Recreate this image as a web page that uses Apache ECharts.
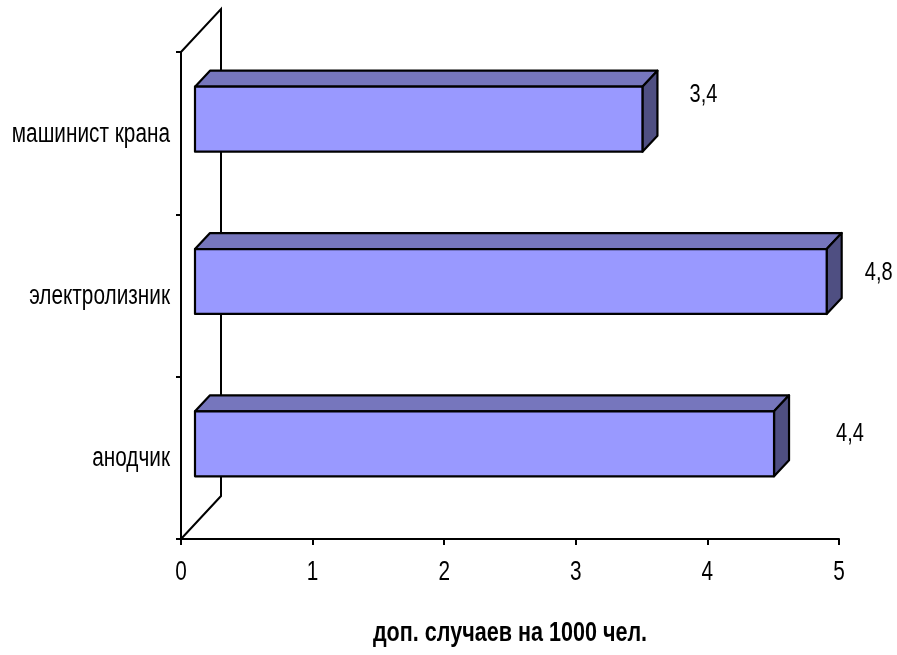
<!DOCTYPE html>
<html>
<head>
<meta charset="utf-8">
<title>Дополнительные случаи по профессиям</title>
<script src="https://cdn.jsdelivr.net/npm/echarts@6/dist/echarts.min.js"></script>
<style>
  html, body { margin: 0; padding: 0; background: #ffffff; }
  #chart { width: 897px; height: 655px; }
</style>
</head>
<body>
<div id="chart"></div>
<script>
// Professions, listed bottom to top as on the category axis
const categories = ['анодчик', 'электролизник', 'машинист крана'];
// Additional cases per 1000 workers
const values = [4.4, 4.8, 3.4];
// Value axis ticks
const tickValues = [0, 1, 2, 3, 4, 5];
const axisTitle = 'доп. случаев на 1000 чел.';

// Arial-metric face, drawn horizontally condensed
const FONT = "'Liberation Sans', Arial, sans-serif";
const SQUEEZE = 0.77;

// Pseudo-3D geometry (pixels)
const WALL_DEPTH = [40, -43];   // back wall offset
const BAR_SHIFT = [14, -14];    // front face offset from the floor edge
const BAR_DEPTH = [15, -16];    // bar thickness in depth
const BAR_FRACTION = 0.4;       // front face height as share of the band
// Value label placement relative to the bar end / band centre
const labelDx = [90, 66, 75];
const labelDy = [-24, -23, -38];

const FRONT = '#9999ff';
const TOP = '#7676bd';
const SIDE = '#4f4f82';

const fmt = v => String(v).replace('.', ',');

const chart = echarts.init(document.getElementById('chart'), null, { renderer: 'canvas' });

function condensedText(x, y, text, size, align, bold) {
  return {
    type: 'text',
    x: x,
    y: y,
    scaleX: SQUEEZE,
    style: {
      text: text,
      fill: '#000',
      font: (bold ? 'bold ' : '') + size + 'px ' + FONT,
      align: align,
      verticalAlign: 'middle'
    }
  };
}

function renderWall(params, api) {
  const cs = params.coordSys;
  const dx = WALL_DEPTH[0], dy = WALL_DEPTH[1];
  return {
    type: 'polyline',
    shape: {
      points: [
        [cs.x, cs.y],
        [cs.x + dx, cs.y + dy],
        [cs.x + dx, cs.y + cs.height + dy],
        [cs.x, cs.y + cs.height]
      ]
    },
    style: { stroke: '#000', lineWidth: 2, fill: null }
  };
}

// Category names to the left of the axis
function renderCategoryLabel(params, api) {
  const p = api.coord([0, api.value(0)]);
  return condensedText(p[0] - 11, p[1] + 1, categories[params.dataIndex], 27, 'right', false);
}

// Numbers under the value axis
function renderTickLabel(params, api) {
  const cs = params.coordSys;
  const p = api.coord([api.value(0), 0]);
  return condensedText(p[0], cs.y + cs.height + 34, fmt(api.value(0)), 27, 'center', false);
}

// Axis title under the tick numbers
function renderAxisTitle(params, api) {
  const cs = params.coordSys;
  return condensedText(cs.x + cs.width / 2, cs.y + cs.height + 94, axisTitle, 28, 'center', true);
}

function renderBar(params, api) {
  const v = api.value(0);
  const idx = api.value(1);
  const start = api.coord([0, idx]);
  const end = api.coord([v, idx]);
  const band = api.size([0, 1])[1];
  const h = band * BAR_FRACTION;
  const x0 = start[0] + BAR_SHIFT[0];
  const x1 = end[0] + BAR_SHIFT[0];
  const yc = start[1] + BAR_SHIFT[1];
  const y0 = yc - h / 2, y1 = yc + h / 2;
  const dx = BAR_DEPTH[0], dy = BAR_DEPTH[1];
  const line = { stroke: '#000', lineWidth: 2.2, lineJoin: 'round' };
  const i = params.dataIndex;
  return {
    type: 'group',
    children: [
      {
        type: 'polygon',
        shape: { points: [[x0, y0], [x0 + dx, y0 + dy], [x1 + dx, y0 + dy], [x1, y0]] },
        style: Object.assign({ fill: TOP }, line)
      },
      {
        type: 'polygon',
        shape: { points: [[x1, y0], [x1 + dx, y0 + dy], [x1 + dx, y1 + dy], [x1, y1]] },
        style: Object.assign({ fill: SIDE }, line)
      },
      {
        type: 'rect',
        shape: { x: x0, y: y0, width: x1 - x0, height: y1 - y0 },
        style: Object.assign({ fill: FRONT }, line)
      },
      condensedText(end[0] + labelDx[i], start[1] + labelDy[i], fmt(v), 26, 'center', false)
    ]
  };
}

chart.setOption({
  animation: false,
  backgroundColor: '#ffffff',
  grid: { left: 181, right: 58, top: 52, bottom: 116, containLabel: false, outerBoundsMode: 'none' },
  xAxis: {
    type: 'value',
    min: tickValues[0],
    max: tickValues[tickValues.length - 1],
    interval: 1,
    axisLine: { show: true, lineStyle: { color: '#000', width: 2 } },
    axisTick: { show: true, length: 6, lineStyle: { color: '#000', width: 2 } },
    axisLabel: { show: false },
    splitLine: { show: false }
  },
  yAxis: {
    type: 'category',
    data: categories,
    axisLine: { show: true, lineStyle: { color: '#000', width: 2 } },
    axisTick: { show: true, length: 5, lineStyle: { color: '#000', width: 2 } },
    axisLabel: { show: false },
    splitLine: { show: false }
  },
  series: [
    {
      type: 'custom',
      name: 'wall',
      z: 1,
      silent: true,
      renderItem: renderWall,
      data: [[0, 0]],
      encode: { x: 0, y: 1 }
    },
    {
      type: 'custom',
      name: 'categoryLabels',
      silent: true,
      renderItem: renderCategoryLabel,
      data: categories.map((c, i) => [i]),
      encode: { y: 0 }
    },
    {
      type: 'custom',
      name: 'tickLabels',
      silent: true,
      renderItem: renderTickLabel,
      data: tickValues.map(v => [v]),
      encode: { x: 0 }
    },
    {
      type: 'custom',
      name: 'axisTitle',
      silent: true,
      renderItem: renderAxisTitle,
      data: [[0]],
      encode: { x: 0 }
    },
    {
      type: 'custom',
      name: axisTitle,
      z: 2,
      renderItem: renderBar,
      data: values.map((v, i) => [v, i]),
      encode: { x: 0, y: 1 }
    }
  ]
});
</script>
</body>
</html>
